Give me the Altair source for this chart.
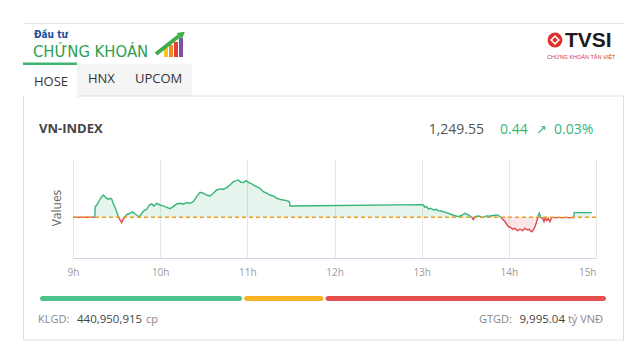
import altair as alt
import pandas as pd

# ---------------- data ----------------
REF = 1249.11          # reference (previous close)
CLOSE_TXT = "1,249.55"
CHG_TXT = "0.44"
PCT_TXT = "0.03%"

minutes = [0, 15, 15.3, 16.5, 17.9, 19.75, 20.85, 22.7, 24.3, 25.5,
           26.6, 27.7, 29.6, 31.2, 32.35, 33.5, 34.6, 35.8, 37.4, 39.2,
           41.1, 42.7, 43.8, 45.6, 47.3, 48.9, 50.7, 52.5, 54.2, 55.75,
           57.6, 59.9, 62.2, 64.5, 66.8, 69.0, 71.4, 73.65, 75.9, 78.3,
           80.5, 82.8, 85.1, 87.4, 89.7, 92.0, 94.3, 96.6, 98.9, 101.2,
           103.5, 105.8, 108.1, 110.3, 112.7, 113.8, 115.6, 117.2, 119.1, 120.7,
           122.3, 124.1, 126.4, 128.7, 131.0, 133.3, 135.6, 137.9, 140.2, 142.5,
           144.75, 147.1, 148.9, 149.4, 150,
           240, 241.1, 242.3, 243.4, 244.6, 246.2, 248.0, 249.9, 251.4, 253.1,
           254.9, 256.7, 258.3, 260.0, 261.8, 263.6, 265.2, 266.4, 268.2, 269.8,
           271.2, 272.8, 274.4, 275.5, 276.7, 279.0, 280.8, 282.4, 284.3, 286.3,
           288.2, 290.5, 292.1, 293.4, 295.1, 297.4, 299.6, 300.8, 302.7, 304.2,
           305.8, 307.7, 309.5, 311.1, 312.7, 314.0, 315.7, 316.8, 318.0, 319.2,
           320.3, 321.0, 321.9, 323.3, 324.2, 325.1, 326.1, 327.2, 328.3, 329.5,
           344.6, 345.0, 357.0]

values = [1249.11, 1249.11, 1250.12, 1250.28, 1250.66, 1251.07, 1251.23, 1250.98, 1250.82, 1250.92,
          1250.85, 1250.44, 1249.81, 1249.17, 1248.85, 1248.60, 1248.92, 1249.17, 1249.40, 1249.49,
          1249.62, 1249.42, 1249.33, 1249.13, 1249.49, 1249.74, 1249.87, 1250.28, 1250.38, 1250.19,
          1250.44, 1250.28, 1250.19, 1250.06, 1249.93, 1250.12, 1250.38, 1250.44, 1250.35, 1250.50,
          1250.44, 1250.60, 1251.07, 1251.49, 1251.40, 1251.23, 1251.14, 1251.40, 1251.71, 1251.81,
          1251.78, 1251.93, 1252.19, 1252.50, 1252.60, 1252.66, 1252.44, 1252.41, 1252.60, 1252.44,
          1252.35, 1252.19, 1252.02, 1251.87, 1251.55, 1251.40, 1251.23, 1251.14, 1250.92, 1250.82,
          1250.76, 1250.69, 1250.60, 1250.19, 1250.19,
          1250.31, 1250.28, 1250.06, 1250.12, 1249.90, 1249.97, 1249.81, 1249.87, 1249.74, 1249.71,
          1249.64, 1249.55, 1249.49, 1249.40, 1249.30, 1249.23, 1249.17, 1249.23, 1249.33, 1249.49,
          1249.40, 1249.26, 1249.11, 1248.90, 1249.17, 1249.23, 1249.17, 1249.08, 1249.23, 1249.21,
          1249.26, 1249.30, 1249.33, 1249.23, 1249.01, 1248.69, 1248.21, 1248.16, 1247.97, 1248.06,
          1247.83, 1247.97, 1247.83, 1248.06, 1247.90, 1247.97, 1247.74, 1247.90, 1248.21, 1248.69,
          1249.33, 1249.49, 1249.11, 1249.01, 1248.69, 1249.05, 1248.79, 1249.01, 1248.69, 1249.08,
          1249.08, 1249.55, 1249.55]

hour_ticks = [9, 10, 11, 12, 13, 14, 15]
y_domain = [1245.23, 1254.66]

breadth_labels = ["up", "flat", "down"]
breadth_counts = [203, 81, 281]

GREEN = "#36b578"
RED = "#e0474c"
ORANGE = "#eb9d24"
FONT = "Open Sans"
NARROW = "Liberation Sans Narrow, DejaVu Sans Condensed, sans-serif"

# ---------------- geometry helpers (page px -> plot px) ----------------
PL, PT, PW, PH = 73, 159, 523, 99
def px(X):
    return X - PL
def py(Y):
    return Y - PT

one = pd.DataFrame({"k": [0]})

def rect(x1, y1, x2, y2, fill, stroke=None, sw=1, r=0, fo=1):
    kw = dict(fill=fill, cornerRadius=r, fillOpacity=fo)
    if stroke:
        kw.update(stroke=stroke, strokeWidth=sw)
    return alt.Chart(one).mark_rect(**kw).encode(
        x=alt.value(px(x1)), x2=alt.value(px(x2)),
        y=alt.value(py(y1)), y2=alt.value(py(y2)))

def text(s, X, Y, size, color, weight="normal", align="left", font=FONT,
         angle=0, baseline="middle"):
    kw = dict(fontSize=size, color=color, fontWeight=weight, align=align,
              font=font, baseline=baseline)
    if angle:
        kw["angle"] = angle
    return alt.Chart(one).mark_text(**kw).encode(
        x=alt.value(px(X)), y=alt.value(py(Y)), text=alt.value(s))

def rule(x1, y1, x2, y2, color, w):
    return alt.Chart(one).mark_rule(color=color, strokeWidth=w, strokeCap="butt").encode(
        x=alt.value(px(x1)), x2=alt.value(px(x2)),
        y=alt.value(py(y1)), y2=alt.value(py(y2)))

# ---------------- series segmentation (colour above / below reference) ----------------
def side(v):
    return "up" if v > REF else "down"

rows = []
seg = 0
prev = None
for m, v in zip(minutes, values):
    s = side(v)
    if prev is not None and s != prev[2]:
        pm, pv, ps = prev
        t = (REF - pv) / (v - pv) if v != pv else 0
        mc = pm + t * (m - pm)
        rows.append((mc, REF, seg, ps))
        seg += 1
        rows.append((mc, REF, seg, s))
    rows.append((m, v, seg, s))
    prev = (m, v, s)
df = pd.DataFrame(rows, columns=["m", "v", "seg", "side"])
df["h"] = 9 + df["m"] / 60.0

xenc = alt.X("h:Q", scale=alt.Scale(domain=[9, 15], nice=False, zero=False),
             axis=alt.Axis(values=hour_ticks, labelExpr="datum.value + 'h'",
                           grid=True, gridColor="#e6e6e6", ticks=False,
                           domainColor="#ccd6eb", labelColor="#9a9a9a",
                           labelFontSize=10, labelFont=FONT, labelPadding=9,
                           title=None,
                           labelAlign={"condition": {"test": "datum.value === 15", "value": "right"},
                                       "value": "center"}))
yenc = alt.Y("v:Q", scale=alt.Scale(domain=y_domain, nice=False, zero=False), axis=None)
cenc = alt.Color("side:N", scale=alt.Scale(domain=["up", "down"], range=[GREEN, RED]), legend=None)

base = alt.Chart(df)
area = base.mark_area(opacity=0.13).encode(x=xenc, y=yenc, y2=alt.datum(REF), color=cenc,
                                           detail="seg:N")
line = base.mark_line(strokeWidth=1.4).encode(x=xenc, y=yenc, color=cenc, detail="seg:N")
refline = alt.Chart(one).mark_rule(color=ORANGE, strokeDash=[4, 3], strokeWidth=1.3).encode(
    y=alt.datum(REF))
main = alt.layer(area, line, refline)

# ---------------- market breadth bar ----------------
bd = pd.DataFrame({"k": breadth_labels, "n": breadth_counts})
bd["end"] = bd["n"].cumsum()
bd["start"] = bd["end"] - bd["n"]
total = int(bd["n"].sum())
bar = alt.Chart(bd).mark_rect(cornerRadius=2.5, x2Offset=-2).encode(
    x=alt.X("start:Q", scale=alt.Scale(domain=[0, total], range=[px(40), px(608)]), axis=None),
    x2="end:Q",
    y=alt.value(py(296)), y2=alt.value(py(301)),
    color=alt.Color("k:N", scale=alt.Scale(domain=breadth_labels,
                                           range=["#4cc38a", "#f6b322", "#e5504f"]), legend=None))

# ---------------- decorations ----------------
deco = [
    rect(23, 23, 624, 24, "#e6e6e6"),
    # logo
    text("Đầu tư", 34, 35, 10, "#1d4f9c", weight="bold", font=NARROW),
    text("CHỨNG KHOÁN", 33, 57, 16.5, "#2e9f4f", font=NARROW, baseline="alphabetic"),
    rect(164, 48, 168, 57, "#f7c325"),
    rect(169, 45, 173, 57, "#f08a24"),
    rect(174, 42, 178, 57, "#e0403a"),
    rect(179, 38, 183, 57, "#7b52ab"),
    rule(156, 54, 179, 36, "#3fae49", 4),
    alt.Chart(one).mark_point(shape="triangle-up", filled=True, color="#3fae49", size=70,
                              angle=52, opacity=1).encode(x=alt.value(px(182)), y=alt.value(py(34))),
    # TVSI logo
    alt.Chart(one).mark_point(shape="circle", filled=True, color="#e0302b", size=220,
                              opacity=1).encode(x=alt.value(px(555)), y=alt.value(py(40))),
    alt.Chart(one).mark_point(shape="diamond", filled=False, color="white", size=60,
                              strokeWidth=1.5, opacity=1).encode(x=alt.value(px(555)), y=alt.value(py(40))),
    text("TVSI", 565, 41, 21, "#1b1b1b", weight="bold", font="Liberation Sans, Arial, sans-serif"),
    text("CHỨNG KHOÁN TÂN VIỆT", 547, 57, 5.5, "#d9352f", font="Liberation Sans, Arial, sans-serif"),
    # tabs
    rect(77, 64, 192, 96, "#f4f4f4"),
    rect(23, 62.5, 77, 65, "#3cb371"),
    text("HOSE", 34, 82, 13, "#333333"),
    text("HNX", 88, 79, 13, "#333333"),
    text("UPCOM", 135, 79, 13, "#333333"),
    # card (border only)
    rect(23.5, 96, 623.5, 340, "white", stroke="#d5e2ee", sw=1, fo=0),
    rect(24, 95, 77, 97.5, "white"),
    text("VN-INDEX", 39, 129, 13, "#444444", weight="bold"),
    text(CLOSE_TXT, 484, 130, 14, "#555555", align="right"),
    text(CHG_TXT, 500, 130, 14, GREEN),
    text("↗", 536, 130, 13, GREEN, font="DejaVu Sans"),
    text(PCT_TXT, 554, 130, 14, GREEN),
    text("Values", 57, 208, 12, "#666666", angle=270, align="center"),
    # footer
    text("KLGD:", 38, 320, 11, "#888888"),
    text("440,950,915", 77, 320, 11.5, "#444444"),
    text("cp", 146, 320, 11, "#888888"),
    text("tỷ VNĐ", 603, 320, 11, "#888888", align="right"),
    text("9,995.04", 565, 320, 11.5, "#444444", align="right"),
    text("GTGD:", 512, 320, 11, "#888888", align="right"),
]

chart = alt.layer(*deco, main, bar).resolve_scale(
    x="independent", color="independent"
).properties(
    width=PW, height=PH,
    autosize=alt.AutoSizeParams(type="none"),
    padding={"left": 65, "top": 151, "right": 40, "bottom": 96},
).configure_view(stroke=None)

chart.save("out.html", embed_options={"renderer": "svg", "actions": False})
